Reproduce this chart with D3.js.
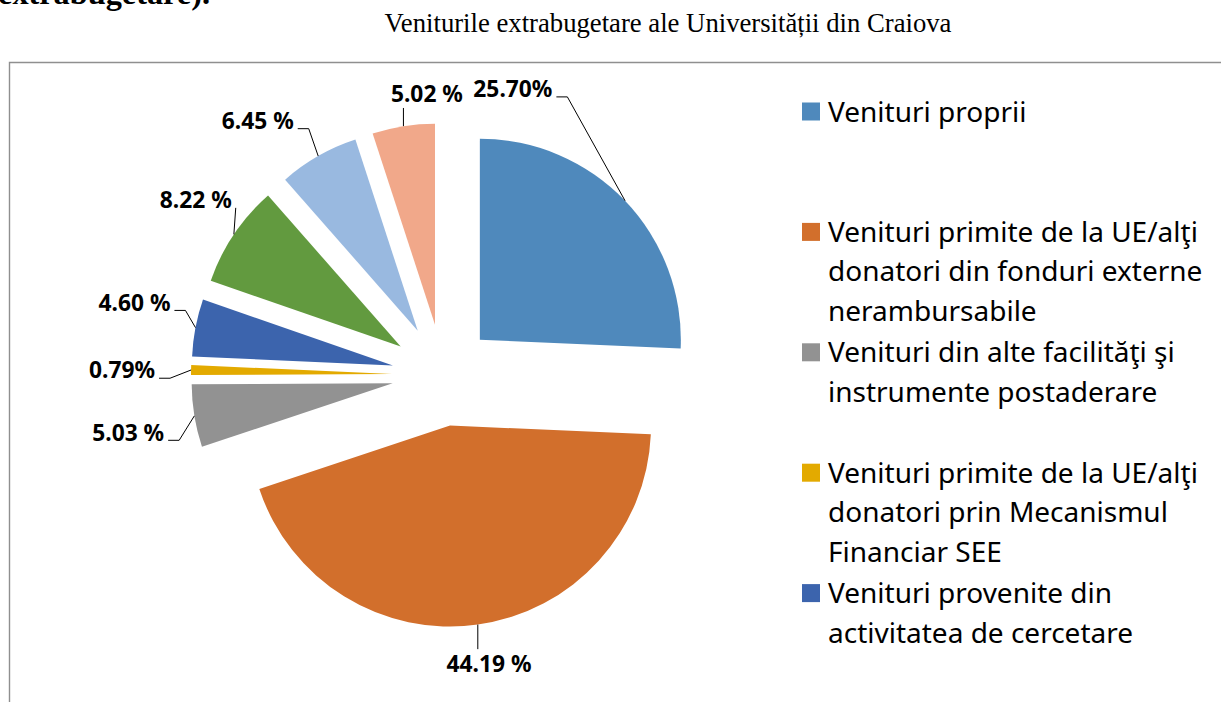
<!DOCTYPE html>
<html>
<head>
<meta charset="utf-8">
<script src="https://cdn.jsdelivr.net/npm/d3@7"></script>
<style>
  body { margin: 0; background: #ffffff; }
  svg { display: block; }
</style>
</head>
<body>
<div id="chart"></div>
<script>
var svgWidth = 1221;
var svgHeight = 702;

// Data: shares of extra-budgetary income, clockwise from 12 o'clock
var values = [25.70, 44.19, 5.03, 0.79, 4.60, 8.22, 6.45, 5.02];
var valueLabels = ["25.70%", "44.19 %", "5.03 %", "0.79%", "4.60 %", "8.22 %", "6.45 %", "5.02 %"];
var colors = ["#4f89bc", "#d26f2c", "#929292", "#e3aa00", "#3c64ad", "#629a3f", "#99b9e0", "#f1a88a"];

// Legend entries that are visible (the rest fall below the chart)
var legendNames = [
    ["Venituri proprii"],
    ["Venituri primite de la UE/alţi", "donatori din fonduri externe", "nerambursabile"],
    ["Venituri din alte facilităţi şi", "instrumente postaderare"],
    ["Venituri primite de la UE/alţi", "donatori prin Mecanismul", "Financiar SEE"],
    ["Venituri provenite din", "activitatea de cercetare"]
];

var titleText = "Veniturile extrabugetare ale Universității din Craiova";

// Layout
var pieCx = 443, pieCy = 375, radius = 201, explode = 51;
// where each data label sits, polar from its slice tip (degrees clockwise from north, px)
var labelPos = [
    {angle: 7.5, dist: 253},
    {angle: 170.7, dist: 241},
    {angle: 259.5, dist: 269},
    {angle: 270.8, dist: 270},
    {angle: 283.7, dist: 266},
    {angle: 305.6, dist: 252},
    {angle: 322.7, dist: 264},
    {angle: 358, dist: 231}
];

var svg = d3.select("#chart")
    .append("svg")
    .attr("width", svgWidth)
    .attr("height", svgHeight);

// scale a text's font so that it takes a given width
function fitFont(sel, target) {
    var w = sel.node().getComputedTextLength();
    var fs = parseFloat(sel.style("font-size"));
    var nf = fs * target / w;
    sel.style("font-size", nf + "px");
    return nf;
}

// Text cut off at the top of the page
var topText = svg.append("text")
    .attr("x", 210)
    .attr("y", 4)
    .attr("text-anchor", "end")
    .style("font-family", "'Liberation Serif', 'Times New Roman', serif")
    .style("font-weight", "bold")
    .style("font-size", "28px")
    .style("fill", "#000")
    .text("extrabugetare).");
fitFont(topText, 212);

// Title
var title = svg.append("text")
    .attr("x", 668)
    .attr("y", 32)
    .attr("text-anchor", "middle")
    .style("font-family", "'Liberation Serif', 'Times New Roman', serif")
    .style("font-size", "24px")
    .style("fill", "#000")
    .text(titleText);
fitFont(title, 567);

// Chart frame (runs off the right and bottom edges)
svg.append("path")
    .attr("d", "M9.5," + svgHeight + "V62.5H" + svgWidth)
    .attr("fill", "none")
    .attr("stroke", "#8f8f8f")
    .attr("stroke-width", 1.4);

// Pie
var pie = d3.pie().sort(null).value(d => d);
var arcs = pie(values);
var arc = d3.arc().innerRadius(0).outerRadius(radius);

function midAngle(d) { return (d.startAngle + d.endAngle) / 2; }
function tip(d) {
    var a = midAngle(d);
    return [pieCx + Math.sin(a) * explode, pieCy - Math.cos(a) * explode];
}

var slices = svg.append("g").selectAll("path")
    .data(arcs)
    .enter()
    .append("path")
    .attr("transform", d => `translate(${tip(d)[0]}, ${tip(d)[1]})`)
    .attr("d", arc)
    .attr("fill", (d, i) => colors[i]);

// Data labels
var labelGroup = svg.append("g");
var probe = labelGroup.append("text")
    .style("font-family", "'Noto Sans', sans-serif")
    .style("font-weight", "bold")
    .style("font-size", "24px")
    .text("44.19 %");
var labelSize = fitFont(probe, 85);
probe.remove();

arcs.forEach(function(d, i) {
    var t = tip(d);
    var a = midAngle(d);
    var ax = t[0] + Math.sin(a) * radius;
    var ay = t[1] - Math.cos(a) * radius;
    var la = labelPos[i].angle * Math.PI / 180;
    var lx = t[0] + Math.sin(la) * labelPos[i].dist;
    var ly = t[1] - Math.cos(la) * labelPos[i].dist;

    var txt = labelGroup.append("text")
        .attr("x", lx)
        .attr("y", ly)
        .attr("dy", "0.36em")
        .attr("text-anchor", "middle")
        .style("font-family", "'Noto Sans', sans-serif")
        .style("font-weight", "bold")
        .style("font-size", labelSize + "px")
        .style("fill", "#000")
        .text(valueLabels[i]);

    var w = txt.node().getComputedTextLength();
    var left = lx - w / 2, right = lx + w / 2;
    var half = labelSize * 0.36;
    var pts;
    if (ax >= left && ax <= right) {
        // leader goes straight up or down
        if (ay > ly) pts = [[ax, ly + half + 6], [ax, ay]];
        else pts = [[ax, ly - half - 6], [ax, ay]];
    } else if (ax > right) {
        var y0 = ly + 8;
        pts = [[right + 4, y0]];
        if (ax > right + 15) pts.push([right + 15, y0]);
        pts.push([ax, ay]);
    } else {
        var y1 = ly + 8;
        pts = [[left - 4, y1]];
        if (ax < left - 15) pts.push([left - 15, y1]);
        pts.push([ax, ay]);
    }
    labelGroup.append("path")
        .attr("d", d3.line()(pts))
        .attr("fill", "none")
        .attr("stroke", "#000")
        .attr("stroke-width", 1);
});

// Legend
var legend = svg.append("g");
var legendProbe = legend.append("text")
    .style("font-family", "'Noto Sans', sans-serif")
    .style("font-size", "26px")
    .text(legendNames[1][0]);
var legendSize = fitFont(legendProbe, 370);
legendProbe.remove();

var entryStep = 120.4, lineStep = 39.5, firstY = 111.5;

legendNames.forEach(function(lines, i) {
    var cy = firstY + i * entryStep;
    legend.append("rect")
        .attr("x", 802)
        .attr("y", cy - 9)
        .attr("width", 18)
        .attr("height", 18)
        .attr("fill", colors[i]);
    lines.forEach(function(line, j) {
        legend.append("text")
            .attr("x", 828)
            .attr("y", cy + j * lineStep)
            .attr("dy", "0.36em")
            .style("font-family", "'Noto Sans', sans-serif")
            .style("font-size", legendSize + "px")
            .style("fill", "#000")
            .text(line);
    });
});
</script>
</body>
</html>
